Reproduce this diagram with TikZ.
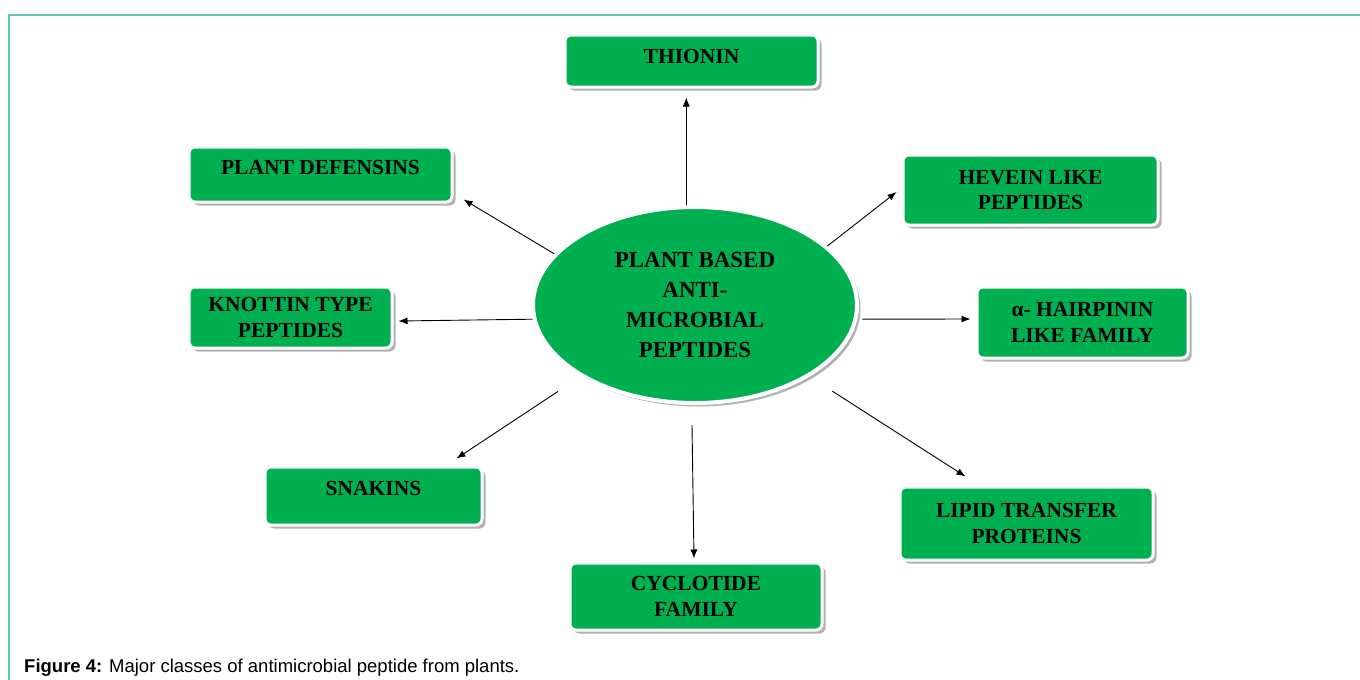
\documentclass[tikz,border=0pt]{standalone}
\usepackage{fontspec}
\setmainfont{Liberation Serif}
\newfontfamily\capfont{Liberation Sans}
\usetikzlibrary{arrows.meta,shapes.geometric,shadows,calc}
\definecolor{leaf}{RGB}{0,176,80}
\definecolor{framec}{RGB}{96,198,180}
\begin{document}
\begin{tikzpicture}[x=1pt,y=-1pt,
  box/.style={rectangle, rounded corners=6pt, fill=leaf, draw=white, line width=3pt,
    inner sep=0pt, align=center, font=\fontsize{21.5}{25.5}\selectfont\bfseries,
    drop shadow={shadow xshift=3.5pt, shadow yshift=-3.5pt, fill=black, opacity=0.3}},
  arr/.style={-{Latex[length=9pt,width=7pt]}, line width=0.9pt, black},
  frameline/.style={draw=framec, line width=1.5pt}]
\useasboundingbox (0,0) rectangle (1360,680);
\fill[white] (0,0) rectangle (1360,680);
\draw[frameline] (9,680) -- (9,15) -- (1360,15);

% central ellipse
\node[ellipse, fill=leaf, draw=white, line width=4pt, minimum width=324, minimum height=196,
  inner sep=0pt, align=center, font=\fontsize{23}{30}\selectfont\bfseries,
  drop shadow={shadow xshift=3.5pt, shadow yshift=-3.5pt, fill=black, opacity=0.3}]
  (ell) at (695,305) {PLANT BASED\\ANTI-\\MICROBIAL\\PEPTIDES};

% boxes
\node[box, minimum width=253, minimum height=52, text height=14, text depth=10] (thionin) at (691.5,61) {THIONIN};
\node[box, minimum width=263, minimum height=55, text height=14, text depth=15] (defens) at (320.5,174.5) {PLANT DEFENSINS};
\node[box, minimum width=255, minimum height=70] (hevein) at (1030.5,190) {HEVEIN LIKE\\PEPTIDES};
\node[box, minimum width=203, minimum height=61] (knottin) at (290.5,317.5) {KNOTTIN TYPE\\PEPTIDES};
\node[box, minimum width=211, minimum height=71] (hairpin) at (1082.5,322.5) {α- HAIRPININ\\LIKE FAMILY};
\node[box, minimum width=217, minimum height=58, text height=14, text depth=16] (snakins) at (373.5,496) {SNAKINS};
\node[box, minimum width=252, minimum height=67] (cyclotide) at (696,596.5) {CYCLOTIDE\\FAMILY};
\node[box, minimum width=253, minimum height=73] (lipid) at (1026.5,523.5) {LIPID TRANSFER\\PROTEINS};

% connectors
\draw[arr, shorten >=9pt] (ell.95) -- (ell.95 |- thionin.south);
\draw[arr] (ell.160) -- ($(defens.south east)+(10,-4)$);
\draw[arr] (ell.24) -- ($(hevein.west)+(-5,2)$);
\draw[arr] (ell.185) -- ($(knottin.east)+(5,3.5)$);
\draw[arr, shorten <=5pt] (ell.-5) -- ($(hairpin.west)+(-5,-3.5)$);
\draw[arr, shorten <=27pt] (ell.212.2) -- ($(snakins.north east)+(-27,-7)$);
\draw[arr] ($(ell.south)+(-3,20)$) -- ($(cyclotide.north)+(-2,-3)$);
\draw[arr, shorten <=27pt] (ell.-32.2) -- ($(lipid.north west)+(67,-9)$);

% caption
\node[anchor=base west, inner sep=0pt, font=\capfont\fontsize{18.5}{22}\selectfont] (cap) at (24,672)
  {\textbf{Figure 4:} Major classes of antimicrobial peptide from plants.};
\end{tikzpicture}
\end{document}
